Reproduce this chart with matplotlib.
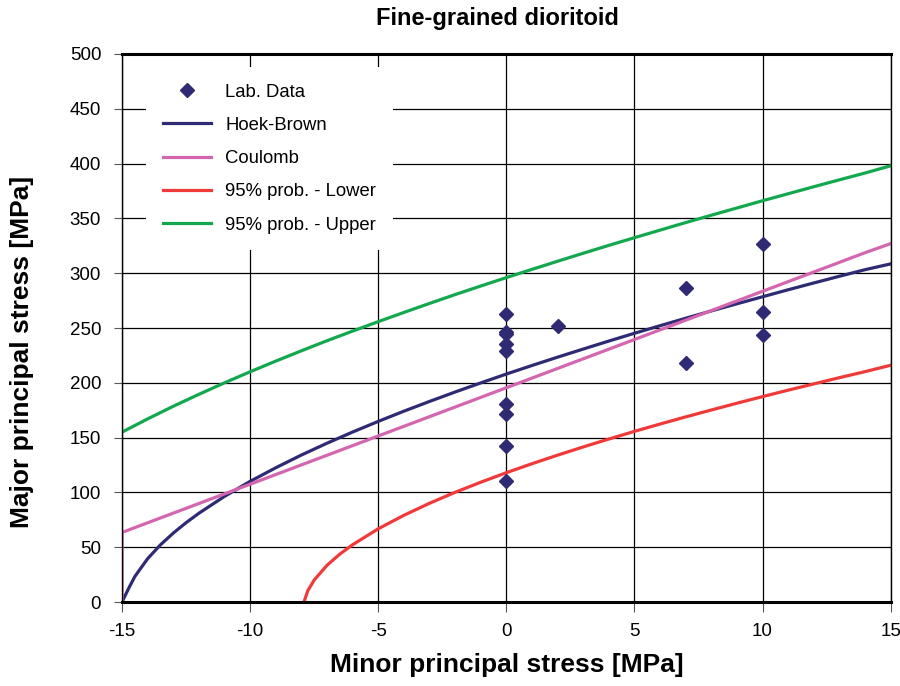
import matplotlib
matplotlib.use('Agg')
import matplotlib.pyplot as plt

plt.rcParams['font.family'] = ['Liberation Sans', 'DejaVu Sans']
plt.rcParams['axes.unicode_minus'] = False

# lab data (minor, major principal stress)
lab_s3 = [0, 0, 0, 0, 0, 0, 0, 0, 0, 2, 7, 7, 10, 10, 10]
lab_s1 = [263, 246.5, 244.5, 235.5, 229, 181, 172, 142, 110, 252, 286.5, 218, 327, 265, 243.5]

# curves
s3 = list(range(-15, 16))
hb_s3 = [-15, -14.75, -14.5, -14, -13.5, -13, -12.5] + list(range(-12, 16))
hoek_brown = [0, 12.1, 23.3, 39.6, 52.2, 62.9, 72.4, 81, 96.4, 110.1, 122.5, 134.1,
              144.9, 155.1, 164.8, 174.1, 183, 191.6, 199.9, 208, 215.8, 223.4, 230.8,
              238.1, 245.2, 252.1, 258.9, 265.6, 272.1, 278.5, 284.9, 291.1, 297.2,
              303.2, 308.5]
coulomb_s3 = [-15] + s3
coulomb = [0, 63.5, 72.3, 81.1, 89.9, 98.7, 107.5, 116.3, 125.1, 133.9, 142.7, 151.5,
           160.3, 169.1, 177.9, 186.7, 195.5, 204.3, 213.1, 221.9, 230.7, 239.5,
           248.3, 257.1, 265.9, 274.7, 283.5, 292.3, 301.1, 309.9, 318.7, 327]
lower_s3 = [-7.9, -7.75, -7.5, -7, -6.5] + list(range(-6, 16))
lower = [0, 10.3, 20.1, 33.5, 43.7, 52.3, 66.8, 79.1, 90.1, 100.1, 109.3, 118, 126.2,
         134, 141.5, 148.7, 155.7, 162.4, 168.9, 175.2, 181.4, 187.4, 193.3, 199,
         204.7, 210.2, 216]
upper = [155, 167.1, 178.6, 189.5, 200, 210.1, 219.8, 229.2, 238.4, 247.2, 255.8,
         264.2, 272.4, 280.5, 288.3, 296, 303.5, 310.9, 318.2, 325.4, 332.4, 339.3,
         346.2, 352.9, 359.5, 366.1, 372.5, 378.9, 385.2, 391.4, 398]

fig = plt.figure(figsize=(9, 6.86), dpi=100)
ax = fig.add_axes([0.1356, 0.1224, 0.854, 0.7989])

ax.plot(lab_s3, lab_s1, 'D', color='#2E2B74', ms=7, label='Lab. Data', zorder=5)
ax.plot(hb_s3, hoek_brown, color='#2E2B74', lw=2.3, label='Hoek-Brown')
ax.plot(coulomb_s3, coulomb, color='#D466B0', lw=2.3, label='Coulomb')
ax.plot(lower_s3, lower, color='#F03A3A', lw=2.3, label='95% prob. - Lower')
ax.plot(s3, upper, color='#14A84E', lw=2.3, label='95% prob. - Upper')

ax.set_xlim(-15, 15)
ax.set_ylim(0, 500)
ax.set_xticks(range(-15, 16, 5))
ax.set_yticks(range(0, 501, 50))
ax.grid(True, color='black', lw=0.9)
ax.set_axisbelow(True)
for sp in ax.spines.values():
    sp.set_color('black')
    sp.set_linewidth(1.0)
ax.spines['bottom'].set_linewidth(2.2)
ax.spines['top'].set_linewidth(2.2)
ax.tick_params(axis='y', length=6, color='#555555', labelsize=13.5, pad=9)
ax.tick_params(axis='x', length=7, color='#555555', labelsize=13.5, pad=8)

fig.text(0.5525, 1 - 19 / 686, 'Fine-grained dioritoid', fontsize=17,
         fontweight='bold', ha='center', va='center')
ax.set_xlabel('Minor principal stress [MPa]', fontsize=19, fontweight='bold', va='center')
ax.set_ylabel('Major principal stress [MPa]', fontsize=19, fontweight='bold', va='center')
ax.xaxis.set_label_coords(0.5, -0.115)
ax.yaxis.set_label_coords(-0.13, 0.456)

leg = ax.legend(loc='upper left', bbox_to_anchor=(0.019, 0.993), fontsize=13.3,
                frameon=True, facecolor='white', edgecolor='none', framealpha=1,
                handlelength=2.6, handletextpad=0.8, labelspacing=0.88, borderpad=0.9)
leg.get_frame().set_boxstyle('square', pad=0)

fig.savefig('out.png', dpi=100)
plt.close(fig)
